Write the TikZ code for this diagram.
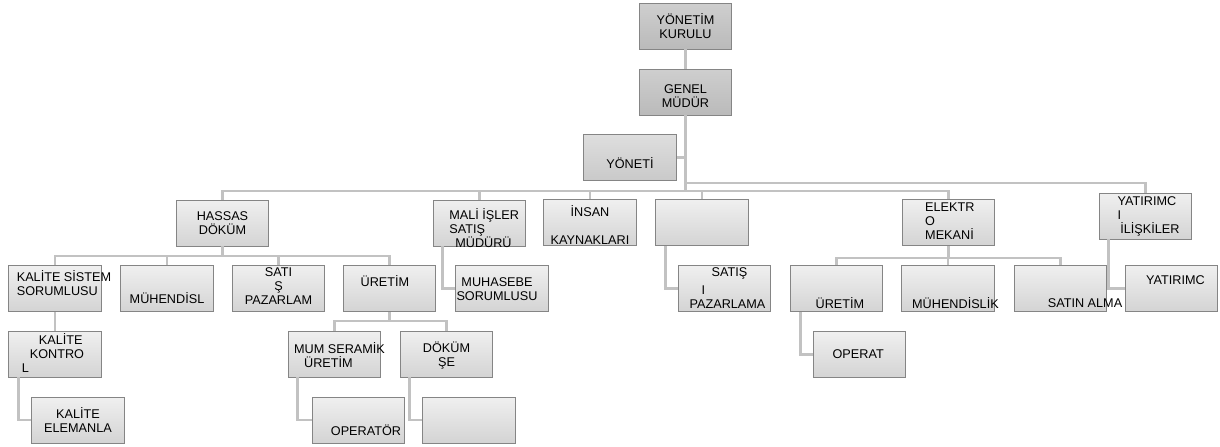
\documentclass[tikz,border=0pt]{standalone}
\usepackage{fontspec}
\setmainfont{Liberation Sans}
\tikzset{
  unit/.style={draw=black!48, line width=0.6pt, top color=black!6, bottom color=black!17, minimum width=69.5pt, minimum height=34.5pt, inner sep=0pt},
  topbox/.style={unit, top color=black!19, bottom color=black!27},
  sidebox/.style={unit, top color=black!13, bottom color=black!21},
  lbl/.style={font=\fontsize{9.5}{10.5}\selectfont, text=black, inner sep=0pt, align=center},
  txt/.style 2 args={label={[lbl,#1]center:{#2}}},
  conn/.style={draw=black!24, line width=2.2pt}
}
\begin{document}
\begin{tikzpicture}[x=0.75pt,y=-0.75pt]
\useasboundingbox (0,0) rectangle (1220,446);
% top
\node[topbox, txt={}{YÖNETİM\\KURULU}] (kurul) at (685.5,26) {};
\node[topbox, txt={yshift=-3pt}{GENEL\\MÜDÜR}] (genel) at (685.5,92) {};
\node[sidebox, txt={yshift=-4pt}{YÖNETİ}] (asst) at (630,157.5) {};
% second row
\node[unit, txt={}{HASSAS\\DÖKÜM}] (hassas) at (222.5,223) {};
\node[unit, txt={align=left, xshift=3.5pt, yshift=-3.75pt}{MALİ İŞLER\\SATIŞ\\\hspace{4.5pt}MÜDÜRÜ}] (mali) at (479.5,223) {};
\node[unit, txt={yshift=-2pt}{İNSAN\\[11pt]KAYNAKLARI}] (insan) at (590,222.5) {};
\node[unit] (bos) at (702,222.5) {};
\node[unit, txt={align=left, xshift=1pt, yshift=1pt}{ELEKTR\\O\\MEKANİ}] (elektro) at (948.5,222.5) {};
\node[unit, txt={align=left, xshift=2.25pt}{YATIRIMC\\I\\\hspace{2pt}İLİŞKİLER}] (yatirim) at (1145.5,216) {};
% third row
\node[unit, txt={align=left, xshift=6.75pt, yshift=3.75pt}{KALİTE SİSTEM\\SORUMLUSU}] (kss) at (55,288.5) {};
\node[unit, txt={yshift=-7pt}{MÜHENDİSL}] (muh1) at (167,288.5) {};
\node[unit, txt={yshift=1.5pt}{SATI\\Ş\\PAZARLAM}] (satpaz1) at (278.5,288.5) {};
\node[unit, txt={xshift=-3.4pt, yshift=5.6pt}{ÜRETİM}] (uretim1) at (389.5,288.5) {};
\node[unit, txt={xshift=-3.75pt, yshift=-0.75pt}{MUHASEBE\\SORUMLUSU}] (muhasebe) at (502,288.5) {};
\node[unit, txt={align=left, xshift=2.25pt}{\hspace{16.5pt}SATIŞ\\[3pt]\hspace{9pt}I\\PAZARLAMA}] (satpaz2) at (724.5,288.5) {};
\node[unit, txt={xshift=2.6pt, yshift=-10.9pt}{ÜRETİM}] (uretim2) at (836.5,288.5) {};
\node[unit, txt={xshift=5.6pt, yshift=-10.9pt}{MÜHENDİSLİK}] (muh2) at (948,288.5) {};
\node[unit, txt={xshift=18.4pt, yshift=-10.9pt}{SATIN ALMA}] (satin) at (1060.5,288.5) {};
\node[unit, txt={xshift=3pt, yshift=6.4pt}{YATIRIMC}] (yatirimc) at (1171.5,288.5) {};
% fourth and fifth rows
\node[unit, txt={align=left, xshift=-1.5pt, yshift=0.75pt}{\hspace{12.75pt}KALİTE\\\hspace{6pt}KONTRO\\L}] (kk) at (55,354) {};
\node[unit, txt={}{KALİTE\\ELEMANLA}] (kel) at (78,420) {};
\node[unit, txt={align=left, xshift=3.75pt, yshift=-0.75pt}{MUM SERAMİK\\\hspace{7.5pt}ÜRETİM}] (mum) at (334.5,354) {};
\node[unit, txt={yshift=-1pt}{DÖKÜM\\ŞE}] (dokum) at (446.5,354) {};
\node[unit, txt={xshift=5.6pt, yshift=-7.5pt}{OPERATÖR}] (oper1) at (358.5,420) {};
\node[unit] (bos2) at (469,420) {};
\node[unit, txt={xshift=-1pt}{OPERAT}] (oper2) at (859.5,354.5) {};
% bus levels
\coordinate (busA) at (0,191);
\coordinate (busB) at (0,183);
\coordinate (busC) at (0,256);
\coordinate (busD) at (0,321);
\coordinate (busE) at (0,258);
% connectors
\draw[conn] (kurul) -- (genel);
\draw[conn] (genel.south) -- (genel.south |- busA);
\draw[conn] (genel.south |- asst.east) -- (asst.east);
\draw[conn] (genel.south |- busB) -| (yatirim.north);
\draw[conn] (hassas.north) -- (hassas.north |- busA) -| (elektro.north);
\foreach \n in {mali,insan,bos} \draw[conn] (\n.north) -- (\n.north |- busA);
\draw[conn] (hassas.south) -- (hassas.south |- busC);
\draw[conn] (kss.north) -- (kss.north |- busC) -| (uretim1.north);
\foreach \n in {muh1,satpaz1} \draw[conn] (\n.north) -- (\n.north |- busC);
\draw[conn] (uretim1.south) -- (uretim1.south |- busD);
\draw[conn] (mum.north) -- (mum.north |- busD) -| (dokum.north);
\draw[conn] (elektro.south) -- (elektro.south |- busE);
\draw[conn] (uretim2.north) -- (uretim2.north |- busE) -| (satin.north);
\draw[conn] (muh2.north) -- (muh2.north |- busE);
\draw[conn] (kss) -- (kk);
\draw[conn] ([xshift=7.5pt]mali.south west) |- (muhasebe.west);
\draw[conn] ([xshift=7.5pt]bos.south west) |- (satpaz2.west);
\draw[conn] ([xshift=7.5pt]kk.south west) |- (kel.west);
\draw[conn] ([xshift=7.5pt]mum.south west) |- (oper1.west);
\draw[conn] ([xshift=7pt]dokum.south west) |- (bos2.west);
\draw[conn] ([xshift=8pt]uretim2.south west) |- (oper2.west);
\draw[conn] ([xshift=7.5pt]yatirim.south west) |- (yatirimc.west);
\end{tikzpicture}
\end{document}
